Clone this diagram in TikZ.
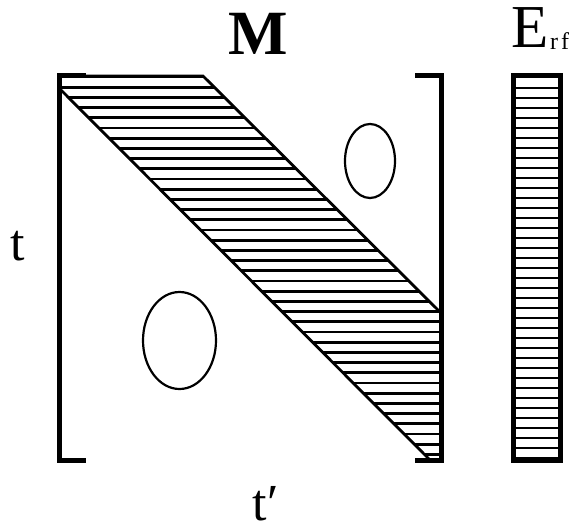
\documentclass[tikz,border=0pt]{standalone}
\usepackage{fontspec}
\setmainfont{Liberation Serif}
\usetikzlibrary{shapes.geometric}
\begin{document}
\begin{tikzpicture}[x=1pt,y=-1pt,
  bracket/.style={line width=5pt,line cap=butt,line join=miter},
  hatch/.style={line width=2.9pt},
  edge/.style={line width=2.8pt,line cap=round},
  blob/.style={draw,line width=2.2pt,ellipse}]
\useasboundingbox (0,0) rectangle (583,532);
% hatched band
\begin{scope}
  \clip (59,76) -- (203,76) -- (441,313) -- (441,460) -- (430,460) -- (59,88) -- cycle;
  \foreach \k in {0,...,38} {
    \draw[hatch] (50,{77+\k*10.2}) -- (450,{77+\k*10.2});
  }
\end{scope}
\draw[edge] (59,76) -- (203,76) -- (441,313);
\draw[edge] (59,88) -- (430,460);
% brackets
\draw[bracket] (86,75.5) -- (59.5,75.5) -- (59.5,460.5) -- (86,460.5);
\draw[bracket] (415,75.5) -- (441.5,75.5) -- (441.5,460.5) -- (415,460.5);
% ellipses
\node[blob, minimum width=50pt, minimum height=74pt, inner sep=0pt] (e1) at (370,161) {};
\node[blob, minimum width=73pt, minimum height=97pt, inner sep=0pt] (e2) at (179.5,340.5) {};
% E_rf bar
\begin{scope}
  \clip (513.5,75.5) rectangle (560.5,460.5);
  \foreach \k in {0,...,38} {
    \draw[hatch] (505,{88+\k*10}) -- (570,{88+\k*10});
  }
\end{scope}
\draw[line width=5pt] (513.5,75.5) rectangle (560.5,460.5);
% labels
\node[inner sep=0pt] (M) at (258,34) {\fontsize{63}{63}\selectfont\bfseries M};
\node[inner sep=0pt, anchor=base west] (E) at (511,48) {\fontsize{61}{61}\selectfont E};
\node[inner sep=0pt, anchor=base west] (rf) at (550,50) {\fontsize{24}{24}\selectfont r\kern3pt f};
\node[inner sep=0pt] (t) at (18,246) {\fontsize{52}{52}\selectfont t};
\node[inner sep=0pt, anchor=base west] (tp) at (252,520) {\fontsize{52}{52}\selectfont t\kern1pt\char"2032};
\end{tikzpicture}
\end{document}
